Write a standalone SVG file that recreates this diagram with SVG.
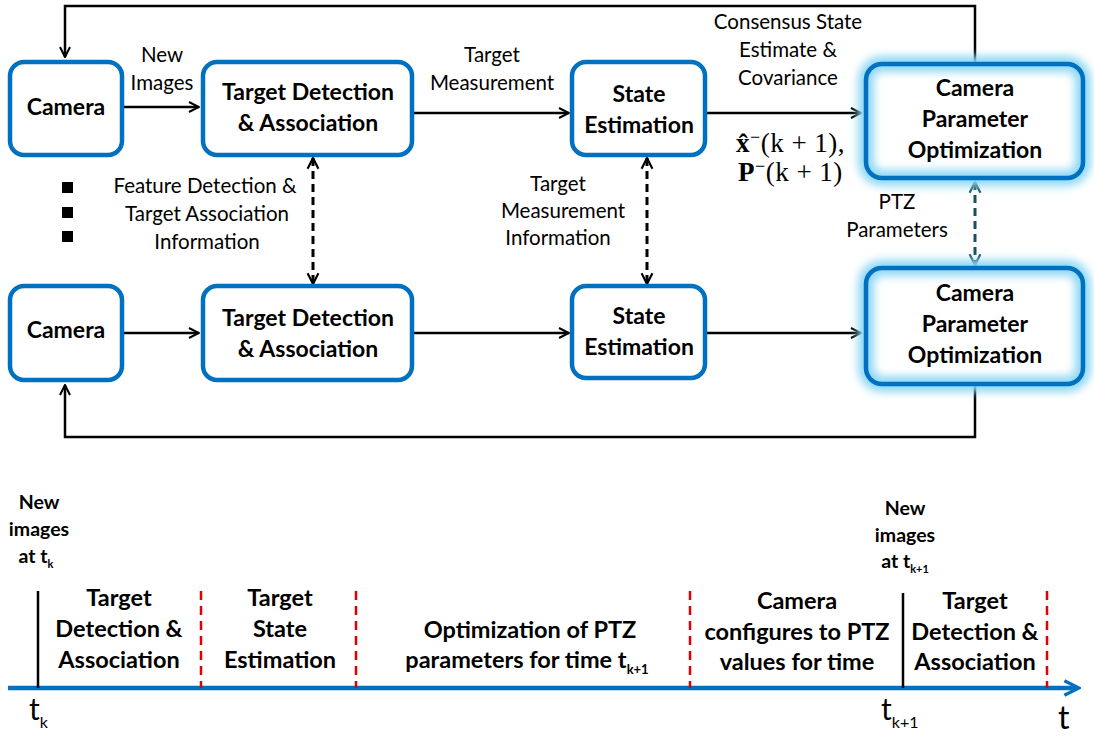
<svg xmlns="http://www.w3.org/2000/svg" width="1094" height="737" viewBox="0 0 1094 737">
<style>
.box{fill:#fff;stroke:#0070C0;stroke-width:4.5}
.glow{fill:none;stroke:#8FD8F5;stroke-width:16;filter:url(#blur)}
.bl{font-family:Lato,"Liberation Sans",sans-serif;font-weight:bold;font-size:23px;fill:#000;text-anchor:middle}
.lb{font-family:Lato,"Liberation Sans",sans-serif;font-size:20.5px;fill:#000;text-anchor:middle}
.tl{font-family:Lato,"Liberation Sans",sans-serif;font-weight:bold;font-size:23.5px;fill:#000;text-anchor:middle}
.sm{font-family:Lato,"Liberation Sans",sans-serif;font-weight:bold;font-size:19.5px;fill:#000;text-anchor:middle}
.ln{fill:none;stroke:#000;stroke-width:2.5}
.dash{fill:none;stroke:#000;stroke-width:3;stroke-dasharray:8,5}
.red{fill:none;stroke:#E00000;stroke-width:2.5;stroke-dasharray:9,6}
.math{font-family:"Liberation Serif","DejaVu Serif",serif;font-size:27px;fill:#000;letter-spacing:0.5px}
</style>
<defs>
<filter id="blur" x="-20%" y="-20%" width="140%" height="140%"><feGaussianBlur stdDeviation="4"/></filter>
<marker id="ah" viewBox="0 0 10 10" refX="9" refY="5" markerWidth="5" markerHeight="5" orient="auto-start-reverse" markerUnits="strokeWidth"><path d="M1,1 L9,5 L1,9" fill="none" stroke="#000" stroke-width="1.6"/></marker>
<marker id="ahd" viewBox="0 0 10 10" refX="9" refY="5" markerWidth="4.5" markerHeight="4.5" orient="auto-start-reverse" markerUnits="strokeWidth"><path d="M1,1 L9,5 L1,9" fill="none" stroke="#000" stroke-width="1.6"/></marker>
<marker id="aht" viewBox="0 0 10 10" refX="9" refY="5" markerWidth="4.5" markerHeight="4.5" orient="auto-start-reverse" markerUnits="strokeWidth"><path d="M1,1 L9,5 L1,9" fill="none" stroke="#1E4E5C" stroke-width="1.6"/></marker>
<marker id="ahb" viewBox="0 0 10 10" refX="8" refY="5" markerWidth="4" markerHeight="4" orient="auto" markerUnits="strokeWidth"><path d="M1,1 L9,5 L1,9" fill="none" stroke="#0070C0" stroke-width="1.8"/></marker>
</defs>

<g id="connectors">
<polyline class="ln" points="975,62 975,6 65,6 65,57" marker-end="url(#ah)"/>
<line class="ln" x1="122" y1="107" x2="199" y2="107" marker-end="url(#ah)"/>
<line class="ln" x1="412" y1="113" x2="569" y2="113" marker-end="url(#ah)"/>
<line class="ln" x1="705" y1="113" x2="861" y2="113" marker-end="url(#ah)"/>
<line class="dash" x1="313" y1="158" x2="313" y2="284" marker-start="url(#ahd)" marker-end="url(#ahd)"/>
<line class="dash" x1="647" y1="158" x2="647" y2="284" marker-start="url(#ahd)" marker-end="url(#ahd)"/>
<line class="dash" x1="975" y1="182" x2="975" y2="265" style="stroke:#1E4E5C" marker-start="url(#aht)" marker-end="url(#aht)"/>
<line class="ln" x1="122" y1="333" x2="199" y2="333" marker-end="url(#ah)"/>
<line class="ln" x1="412" y1="333" x2="569" y2="333" marker-end="url(#ah)"/>
<line class="ln" x1="705" y1="333" x2="861" y2="333" marker-end="url(#ah)"/>
<polyline class="ln" points="975,386 975,437 65,437 65,385" marker-end="url(#ah)"/>
</g>

<g id="camera1"><rect class="box" x="10" y="62" width="112" height="93" rx="14"/><text class="bl" x="66" y="115">Camera</text></g>
<g id="tda1"><rect class="box" x="203" y="62" width="209" height="93" rx="14"/><text class="bl" x="308" y="100">Target Detection</text><text class="bl" x="308" y="131">&amp; Association</text></g>
<g id="se1"><rect class="box" x="572" y="62" width="133" height="93" rx="14"/><text class="bl" x="639" y="102">State</text><text class="bl" x="639" y="133">Estimation</text></g>
<g id="cpo1"><rect x="866" y="64" width="217" height="114" rx="16" fill="#fff"/><rect class="glow" x="866" y="64" width="217" height="114" rx="16"/><rect x="866" y="64" width="217" height="114" rx="16" fill="none" stroke="#0070C0" stroke-width="4.5"/><text class="bl" x="975" y="96">Camera</text><text class="bl" x="975" y="127">Parameter</text><text class="bl" x="975" y="158">Optimization</text></g>

<g id="camera2"><rect class="box" x="10" y="286" width="112" height="94" rx="14"/><text class="bl" x="66" y="338">Camera</text></g>
<g id="tda2"><rect class="box" x="203" y="286" width="209" height="94" rx="14"/><text class="bl" x="308" y="326">Target Detection</text><text class="bl" x="308" y="357">&amp; Association</text></g>
<g id="se2"><rect class="box" x="572" y="286" width="133" height="92" rx="14"/><text class="bl" x="639" y="324">State</text><text class="bl" x="639" y="355">Estimation</text></g>
<g id="cpo2"><rect x="866" y="268" width="217" height="116" rx="16" fill="#fff"/><rect class="glow" x="866" y="268" width="217" height="116" rx="16"/><rect x="866" y="268" width="217" height="116" rx="16" fill="none" stroke="#0070C0" stroke-width="4.5"/><text class="bl" x="975" y="301">Camera</text><text class="bl" x="975" y="332">Parameter</text><text class="bl" x="975" y="363">Optimization</text></g>

<g id="labels">
<text class="lb" x="162" y="62">New</text><text class="lb" x="162" y="90">Images</text>
<text class="lb" x="492" y="62">Target</text><text class="lb" x="492" y="90">Measurement</text>
<text class="lb" x="788" y="29">Consensus State</text><text class="lb" x="788" y="57">Estimate &amp;</text><text class="lb" x="788" y="85">Covariance</text>
<text class="math" x="736" y="152"><tspan font-weight="bold">x̂</tspan><tspan dy="-9" font-size="18">−</tspan><tspan dy="9">(k + 1),</tspan></text>
<text class="math" x="738" y="181"><tspan font-weight="bold">P</tspan><tspan dy="-9" font-size="18">−</tspan><tspan dy="9">(k + 1)</tspan></text>
<text class="lb" x="205" y="193">Feature Detection &amp;</text><text class="lb" x="207" y="221">Target Association</text><text class="lb" x="207" y="249">Information</text>
<text class="lb" x="558" y="191">Target</text><text class="lb" x="563" y="218">Measurement</text><text class="lb" x="558" y="245">Information</text>
<text class="lb" x="897" y="209">PTZ</text><text class="lb" x="897" y="237">Parameters</text>
<rect x="62" y="182" width="11" height="11"/><rect x="62" y="207" width="11" height="11"/><rect x="62" y="231" width="11" height="11"/>
</g>

<g id="timeline">
<line x1="8" y1="688" x2="1077" y2="688" stroke="#0070C0" stroke-width="4.5" marker-end="url(#ahb)"/>
<line x1="38" y1="591" x2="38" y2="688" stroke="#000" stroke-width="2.5"/>
<line x1="903" y1="593" x2="903" y2="688" stroke="#000" stroke-width="2.5"/>
<line class="red" x1="201" y1="591" x2="201" y2="688"/>
<line class="red" x1="356" y1="591" x2="356" y2="688"/>
<line class="red" x1="690" y1="591" x2="690" y2="688"/>
<line class="red" x1="1047" y1="591" x2="1047" y2="688"/>
<text class="sm" x="39" y="509">New</text><text class="sm" x="39" y="536">images</text><text class="sm" x="36" y="563">at t<tspan font-size="11" dy="5">k</tspan></text>
<text class="sm" x="905" y="515">New</text><text class="sm" x="905" y="542">images</text><text class="sm" x="905" y="568">at t<tspan font-size="11" dy="5">k+1</tspan></text>
<text class="tl" x="119" y="606">Target</text><text class="tl" x="119" y="637">Detection &amp;</text><text class="tl" x="119" y="668">Association</text>
<text class="tl" x="280" y="606">Target</text><text class="tl" x="280" y="637">State</text><text class="tl" x="280" y="668">Estimation</text>
<text class="tl" x="530" y="638">Optimization of PTZ</text><text class="tl" x="527" y="668">parameters for time t<tspan font-size="13" dy="6">k+1</tspan></text>
<text class="tl" x="797" y="609">Camera</text><text class="tl" x="797" y="640">configures to PTZ</text><text class="tl" x="797" y="670">values for time</text>
<text class="tl" x="975" y="609">Target</text><text class="tl" x="975" y="640">Detection &amp;</text><text class="tl" x="975" y="670">Association</text>
<text font-family="Lato,'Liberation Sans',sans-serif" font-size="30" x="29" y="720">t<tspan font-size="16" dy="8">k</tspan></text>
<text font-family="Lato,'Liberation Sans',sans-serif" font-size="30" x="881" y="720">t<tspan font-size="16" dy="8">k+1</tspan></text>
<text font-family="Lato,'Liberation Sans',sans-serif" font-size="32" x="1058" y="729">t</text>
</g>
</svg>
